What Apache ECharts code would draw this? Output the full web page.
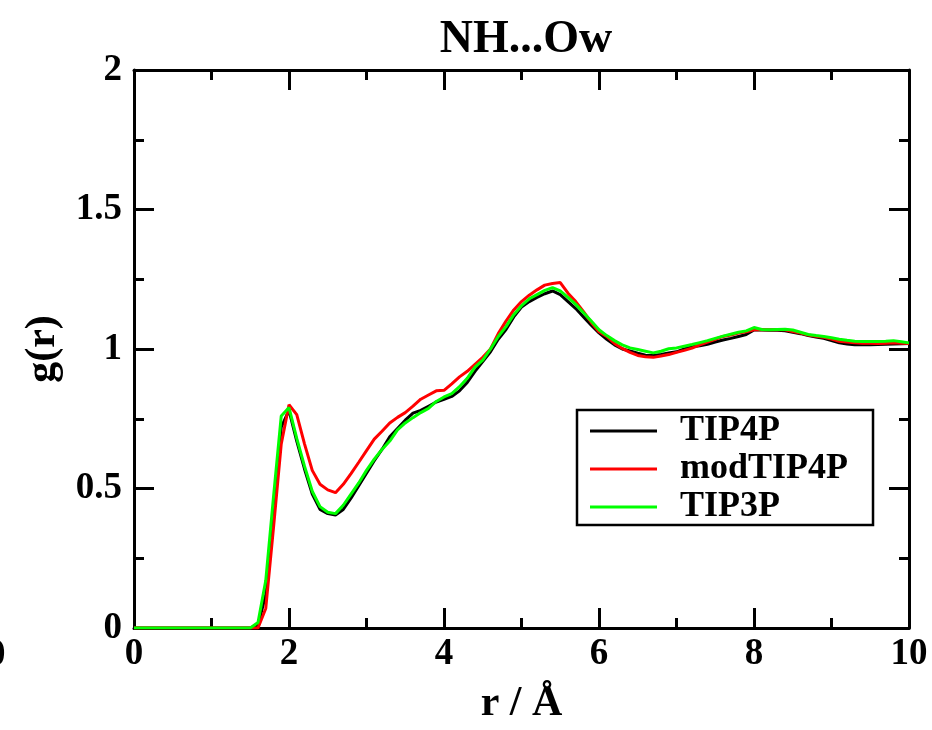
<!DOCTYPE html>
<html>
<head>
<meta charset="utf-8">
<script src="https://cdn.jsdelivr.net/npm/echarts@6/dist/echarts.min.js"></script>
<style>html,body{margin:0;padding:0;background:#fff}#c{width:932px;height:730px}</style>
</head>
<body>
<div id="c"></div>
<script>
var rValues = [0, 0.5, 1.0, 1.5, 1.6, 1.7, 1.8, 1.9, 2.0, 2.1, 2.2, 2.3, 2.4, 2.5, 2.6, 2.7, 2.8, 2.9, 3.0,
  3.1, 3.2, 3.3, 3.4, 3.5, 3.6, 3.7, 3.8, 3.9, 4.0, 4.1, 4.2, 4.3, 4.4, 4.5, 4.6, 4.7, 4.8, 4.9, 5.0,
  5.1, 5.2, 5.3, 5.4, 5.5, 5.6, 5.7, 5.8, 5.9, 6.0, 6.1, 6.2, 6.3, 6.4, 6.5, 6.6, 6.7, 6.8, 6.9, 7.0,
  7.1, 7.2, 7.3, 7.4, 7.5, 7.6, 7.7, 7.8, 7.9, 8.0, 8.1, 8.2, 8.3, 8.4, 8.5, 8.6, 8.7, 8.8, 8.9, 9.0,
  9.1, 9.2, 9.3, 9.4, 9.5, 9.6, 9.7, 9.8, 9.9, 10.0];

var tip4p = [0, 0, 0, 0, 0.01, 0.12, 0.42, 0.72, 0.78, 0.67, 0.57, 0.48, 0.425, 0.41, 0.405, 0.425, 0.465, 0.51, 0.555,
  0.60, 0.64, 0.685, 0.715, 0.745, 0.77, 0.78, 0.795, 0.81, 0.82, 0.83, 0.85, 0.88, 0.92, 0.955, 0.99, 1.035, 1.07, 1.115, 1.15,
  1.17, 1.185, 1.198, 1.208, 1.195, 1.17, 1.145, 1.115, 1.085, 1.058, 1.035, 1.015, 1.00, 0.993, 0.985, 0.978, 0.977, 0.98, 0.986, 0.99,
  1.0, 1.008, 1.012, 1.017, 1.025, 1.032, 1.038, 1.045, 1.052, 1.068, 1.068, 1.067, 1.067, 1.065, 1.06, 1.055, 1.048, 1.043, 1.038, 1.03,
  1.022, 1.018, 1.015, 1.015, 1.015, 1.016, 1.017, 1.018, 1.019, 1.02];

var modTip4p = [0, 0, 0, 0, 0.0, 0.07, 0.36, 0.66, 0.80, 0.765, 0.66, 0.565, 0.515, 0.495, 0.485, 0.515, 0.553, 0.594, 0.636,
  0.677, 0.705, 0.735, 0.755, 0.772, 0.795, 0.82, 0.835, 0.85, 0.852, 0.875, 0.90, 0.92, 0.945, 0.97, 1.00, 1.055, 1.10, 1.14, 1.17,
  1.193, 1.212, 1.229, 1.235, 1.238, 1.20, 1.17, 1.134, 1.095, 1.062, 1.045, 1.02, 1.002, 0.988, 0.977, 0.972, 0.97, 0.975, 0.98, 0.988,
  0.995, 1.003, 1.015, 1.025, 1.035, 1.045, 1.05, 1.057, 1.062, 1.069, 1.069, 1.069, 1.07, 1.069, 1.063, 1.057, 1.05, 1.046, 1.042, 1.036,
  1.028, 1.025, 1.022, 1.021, 1.021, 1.02, 1.021, 1.022, 1.021, 1.02];

var tip3p = [0, 0, 0, 0, 0.02, 0.17, 0.47, 0.76, 0.79, 0.68, 0.58, 0.49, 0.435, 0.415, 0.41, 0.44, 0.48, 0.52, 0.565,
  0.605, 0.64, 0.67, 0.71, 0.735, 0.754, 0.772, 0.787, 0.812, 0.828, 0.84, 0.865, 0.895, 0.935, 0.96, 1.00, 1.045, 1.08, 1.123, 1.155,
  1.18, 1.195, 1.21, 1.22, 1.208, 1.185, 1.16, 1.13, 1.10, 1.069, 1.048, 1.03, 1.015, 1.004, 0.998, 0.992, 0.986, 0.992, 1.001, 1.004,
  1.01, 1.016, 1.023, 1.03, 1.038, 1.046, 1.053, 1.06, 1.065, 1.077, 1.07, 1.069, 1.07, 1.071, 1.068, 1.06, 1.052, 1.048, 1.045, 1.04,
  1.035, 1.031, 1.028, 1.027, 1.027, 1.027, 1.028, 1.03, 1.026, 1.022];

var seriesNames = ['TIP4P', 'modTIP4P', 'TIP3P'];
var seriesColors = ['#000000', '#ff0000', '#00ff00'];
var seriesValues = [tip4p, modTip4p, tip3p];
var xTicks = [0, 2, 4, 6, 8, 10];
var yTicks = [0, 0.5, 1, 1.5, 2];

var FONT = '"Liberation Serif", "Times New Roman", serif';

function pairs(vals) {
  return rValues.map(function (r, i) { return [r, vals[i]]; });
}

function axisBase(isX, pos, showLabel) {
  return {
    type: 'value',
    position: pos,
    min: isX ? xTicks[0] : yTicks[0],
    max: isX ? xTicks[xTicks.length - 1] : yTicks[yTicks.length - 1],
    interval: isX ? 2 : 0.5,
    axisLine: { show: true, onZero: false, lineStyle: { color: '#000', width: 3 } },
    axisTick: { show: true, inside: true, length: 20, lineStyle: { color: '#000', width: 3 } },
    minorTick: { show: true, splitNumber: 2, length: 10, lineStyle: { color: '#000', width: 3 } },
    splitLine: { show: false },
    minorSplitLine: { show: false },
    axisLabel: {
      show: showLabel,
      color: '#000',
      fontFamily: FONT,
      fontWeight: 'bold',
      fontSize: 37,
      margin: isX ? 8 : 12
    }
  };
}

var xBottom = axisBase(true, 'bottom', true);
xBottom.name = 'r / Å';
xBottom.nameLocation = 'middle';
xBottom.nameGap = 55;
xBottom.nameTextStyle = { color: '#000', fontFamily: FONT, fontWeight: 'bold', fontSize: 42 };
var xTop = axisBase(true, 'top', false);

var yLeft = axisBase(false, 'left', true);
yLeft.name = 'g(r)';
yLeft.nameLocation = 'middle';
yLeft.nameGap = 70;
yLeft.nameTextStyle = { color: '#000', fontFamily: FONT, fontWeight: 'bold', fontSize: 42 };
var yRight = axisBase(false, 'right', false);

var chart = echarts.init(document.getElementById('c'), null, { renderer: 'canvas' });
chart.setOption({
  backgroundColor: '#fff',
  animation: false,
  title: {
    text: 'NH...Ow',
    left: 521,
    top: 12,
    textAlign: 'center',
    textStyle: { color: '#000', fontFamily: FONT, fontWeight: 'bold', fontSize: 46 }
  },
  grid: { left: 134, right: 23, top: 70, bottom: 98, containLabel: false },
  xAxis: [xBottom, xTop],
  yAxis: [yLeft, yRight],
  legend: {
    orient: 'vertical',
    left: 577,
    top: 410,
    icon: 'rect',
    itemWidth: 67,
    itemHeight: 3,
    itemGap: 2,
    padding: [3, 25, 0, 13],
    borderColor: '#000',
    borderWidth: 2.5,
    backgroundColor: '#fff',
    data: seriesNames,
    textStyle: { color: '#000', fontFamily: FONT, fontWeight: 'bold', fontSize: 36, padding: [0, 0, 0, 18] }
  },
  graphic: [{
    type: 'text',
    left: -13,
    top: 637,
    style: { text: '0', fill: '#000', font: 'bold 37px ' + FONT }
  }],
  series: seriesNames.map(function (name, i) {
    return {
      name: name,
      type: 'line',
      xAxisIndex: 0,
      yAxisIndex: 0,
      showSymbol: false,
      symbol: 'none',
      color: seriesColors[i],
      lineStyle: { color: seriesColors[i], width: 3 },
      itemStyle: { color: seriesColors[i] },
      data: pairs(seriesValues[i]),
      z: 2 + i
    };
  })
});
</script>
</body>
</html>
